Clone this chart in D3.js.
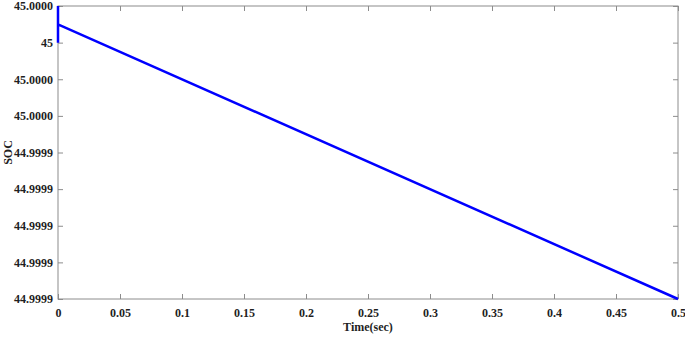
<!DOCTYPE html>
<html>
<head>
<meta charset="utf-8">
<script src="https://cdn.jsdelivr.net/npm/d3@7/dist/d3.min.js"></script>
<style>
  html, body { margin: 0; padding: 0; background: #fff; }
</style>
</head>
<body>
<div id="chart"></div>
<script>
// data
const time = [0, 0, 0, 0.5];
const soc = [45.00000, 44.99999, 44.999995, 44.99992];

const xTicks = [0, 0.05, 0.1, 0.15, 0.2, 0.25, 0.3, 0.35, 0.4, 0.45, 0.5];
const xTickLabels = ['0', '0.05', '0.1', '0.15', '0.2', '0.25', '0.3', '0.35', '0.4', '0.45', '0.5'];
const yTicks = [45.00000, 44.99999, 44.99998, 44.99997, 44.99996, 44.99995, 44.99994, 44.99993, 44.99992];
const yTickLabels = ['45.0000', '45', '45.0000', '45.0000', '44.9999', '44.9999', '44.9999', '44.9999', '44.9999'];

const W = 685, H = 337;
const margin = { top: 6, right: 7, bottom: 38, left: 58 };
const width = W - margin.left - margin.right;
const height = H - margin.top - margin.bottom;

const font = '"Liberation Serif", Tinos, "Times New Roman", Times, serif';
const axisColor = '#8c8c8c';
const textColor = '#1f1f1f';

const svg = d3.select('#chart').append('svg')
  .attr('width', W)
  .attr('height', H);

const g = svg.append('g')
  .attr('transform', `translate(${margin.left},${margin.top})`);

const x = d3.scaleLinear().domain([0, 0.5]).range([0, width]);
const y = d3.scaleLinear().domain([44.99992, 45.00000]).range([height, 0]);

function styleAxis(sel, showText) {
  sel.attr('font-family', null).attr('font-size', null);
  sel.select('.domain').remove();
  sel.selectAll('.tick line').attr('stroke', axisColor).attr('stroke-width', 1);
  sel.selectAll('.tick text')
    .attr('fill', textColor)
    .style('font-family', font)
    .style('font-weight', 'bold')
    .style('font-size', '12px')
    .style('display', showText ? null : 'none');
}

// bottom axis (ticks inward)
g.append('g')
  .attr('transform', `translate(0,${height})`)
  .call(d3.axisBottom(x).tickValues(xTicks).tickSize(-5).tickPadding(9)
    .tickFormat((d, i) => xTickLabels[i]))
  .call(s => styleAxis(s, true));

// top mirrored ticks
g.append('g')
  .call(d3.axisTop(x).tickValues(xTicks).tickSize(-5))
  .call(s => styleAxis(s, false));

// left axis
g.append('g')
  .call(d3.axisLeft(y).tickValues(yTicks).tickSize(-5).tickPadding(5)
    .tickFormat((d, i) => yTickLabels[i]))
  .call(s => styleAxis(s, true));

// right mirrored ticks
g.append('g')
  .attr('transform', `translate(${width},0)`)
  .call(d3.axisRight(y).tickValues(yTicks).tickSize(-5))
  .call(s => styleAxis(s, false));

// box
g.append('rect')
  .attr('x', 0).attr('y', 0)
  .attr('width', width).attr('height', height)
  .attr('fill', 'none')
  .attr('stroke', axisColor)
  .attr('stroke-width', 1);

// series
const line = d3.line()
  .x((d, i) => x(time[i]))
  .y(d => y(d));

g.append('path')
  .datum(soc)
  .attr('fill', 'none')
  .attr('stroke', '#0000ff')
  .attr('stroke-width', 2.5)
  .attr('d', line);

// labels
svg.append('text')
  .attr('x', margin.left + width / 2)
  .attr('y', 331)
  .attr('text-anchor', 'middle')
  .attr('fill', textColor)
  .style('font-family', font)
  .style('font-weight', 'bold')
  .style('font-size', '12px')
  .text('Time(sec)');

svg.append('text')
  .attr('transform', `translate(12,${margin.top + height / 2}) rotate(-90)`)
  .attr('text-anchor', 'middle')
  .attr('fill', textColor)
  .style('font-family', font)
  .style('font-weight', 'bold')
  .style('font-size', '12px')
  .text('SOC');
</script>
</body>
</html>
